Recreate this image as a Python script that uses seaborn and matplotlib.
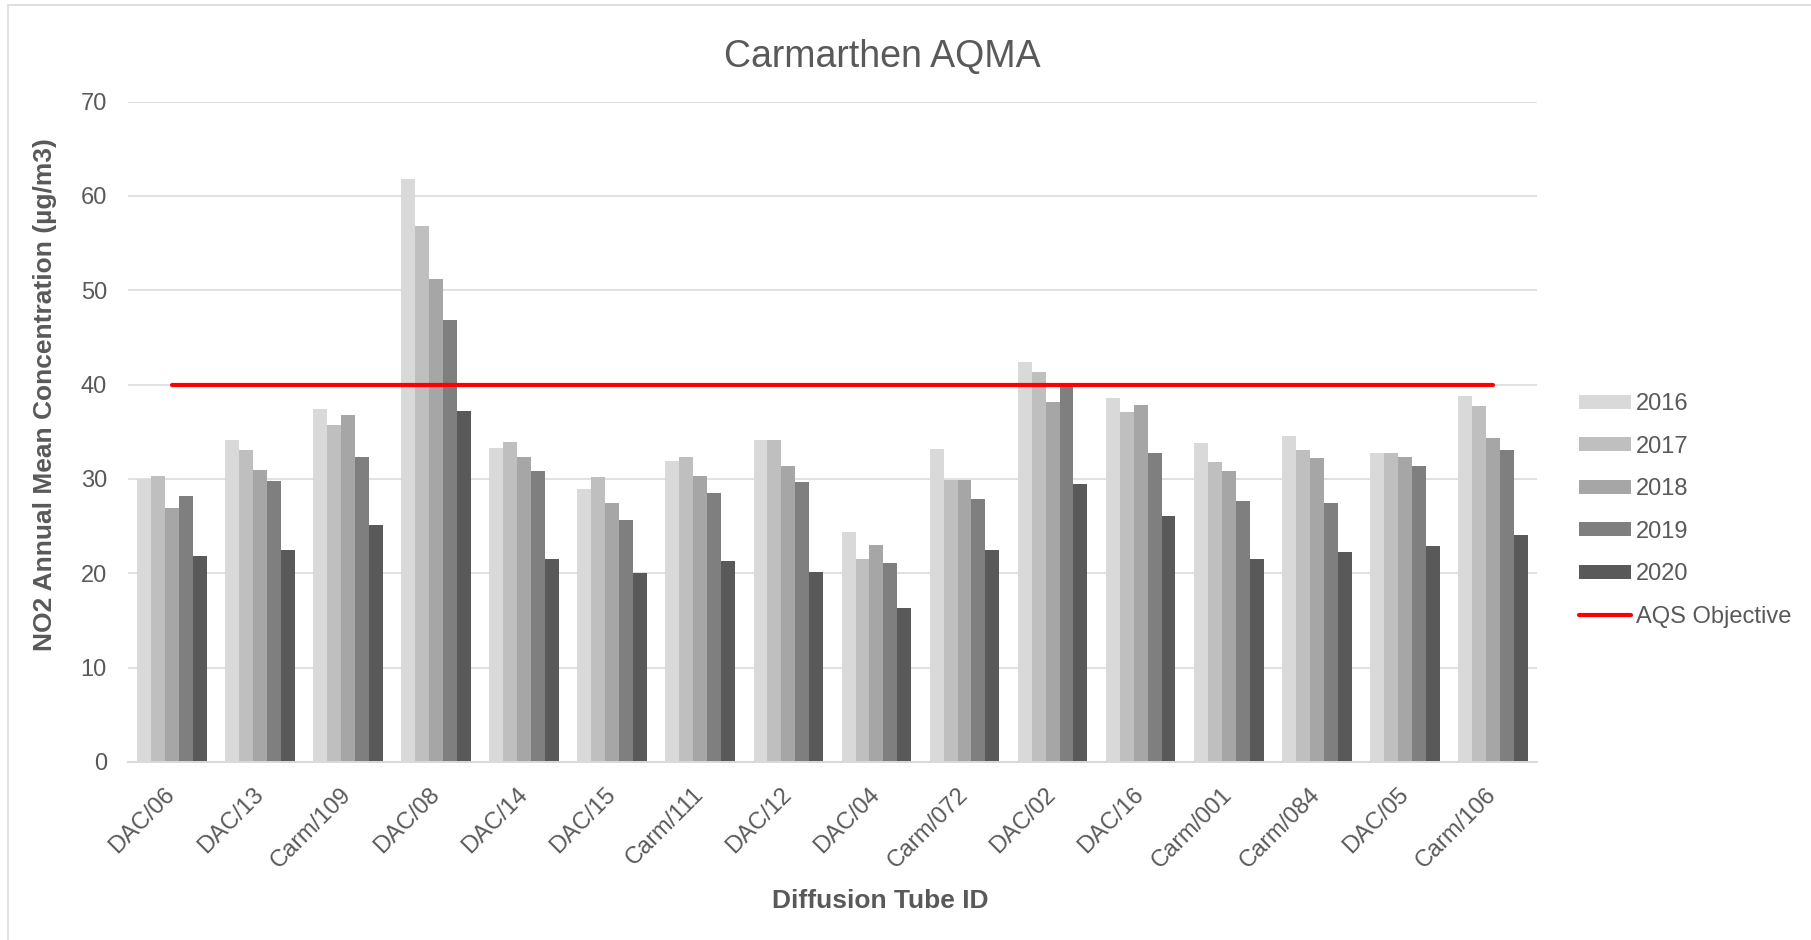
#!/usr/bin/env python3
# -*- coding: utf-8 -*-

import numpy as np
import pandas as pd
import matplotlib
matplotlib.use('Agg')
import matplotlib.pyplot as plt
from matplotlib.lines import Line2D
from matplotlib.patches import Rectangle
import seaborn as sns

# values
tubes = ['DAC/06', 'DAC/13', 'Carm/109', 'DAC/08', 'DAC/14', 'DAC/15',
         'Carm/111', 'DAC/12', 'DAC/04', 'Carm/072', 'DAC/02', 'DAC/16',
         'Carm/001', 'Carm/084', 'DAC/05', 'Carm/106']
years = ['2016', '2017', '2018', '2019', '2020']

no2_2016 = [30.0, 34.1, 37.4, 61.8, 33.3, 28.9, 31.9, 34.1, 24.4, 33.2, 42.4, 38.6, 33.8, 34.6, 32.8, 38.8]
no2_2017 = [30.3, 33.1, 35.7, 56.8, 33.9, 30.2, 32.3, 34.1, 21.5, 29.9, 41.3, 37.1, 31.8, 33.1, 32.8, 37.7]
no2_2018 = [26.9, 31.0, 36.8, 51.2, 32.3, 27.5, 30.3, 31.4, 23.0, 29.9, 38.2, 37.8, 30.8, 32.2, 32.3, 34.3]
no2_2019 = [28.2, 29.8, 32.3, 46.8, 30.8, 25.6, 28.5, 29.7, 21.1, 27.9, 39.8, 32.7, 27.7, 27.5, 31.4, 33.1]
no2_2020 = [21.8, 22.5, 25.1, 37.2, 21.5, 20.0, 21.3, 20.1, 16.3, 22.5, 29.5, 26.1, 21.5, 22.3, 22.9, 24.1]

aqs_objective = 40
y_ticks = [0, 10, 20, 30, 40, 50, 60, 70]

bar_colors = ['#d9d9d9', '#bfbfbf', '#a6a6a6', '#7f7f7f', '#595959']
text_color = '#595959'
grid_color = '#d9d9d9'

W, H = 1811, 940


def longForm():
    series = [no2_2016, no2_2017, no2_2018, no2_2019, no2_2020]
    frames = []
    for year, vals in zip(years, series):
        frames.append(pd.DataFrame({'tube': tubes, 'year': year, 'no2': vals}))
    return pd.concat(frames, ignore_index=True)


def aqmaChart(df):
    sns.set_style('white')
    plt.rcParams['font.family'] = ['Liberation Sans', 'DejaVu Sans']

    fig = plt.figure(figsize=(W / 100, H / 100), dpi=100)
    ax = fig.add_axes([127.7 / W, 1 - 762 / H, (1537 - 127.7) / W, (762 - 101.6) / H])

    sns.barplot(data=df, x='tube', y='no2', hue='year', order=tubes,
                hue_order=years, palette=bar_colors, width=0.79,
                linewidth=0, saturation=1, ax=ax, legend=True)

    # AQS objective line, first to last tube
    xs = np.arange(len(tubes))
    ax.plot(xs, [aqs_objective] * len(tubes), color='#ff0000', lw=3,
            solid_capstyle='round', zorder=5)

    ax.set_ylim(y_ticks[0], y_ticks[-1])
    ax.set_yticks(y_ticks)
    ax.set_xlim(-0.5, len(tubes) - 0.5)
    ax.yaxis.grid(True, color=grid_color, lw=1.1)
    ax.set_axisbelow(True)
    for side in ['top', 'right', 'left']:
        ax.spines[side].set_visible(False)
    ax.spines['bottom'].set_color(grid_color)
    ax.spines['bottom'].set_linewidth(1.4)

    ax.tick_params(axis='y', length=0, pad=15, labelsize=17, labelcolor=text_color)
    ax.tick_params(axis='x', length=0, pad=21, labelsize=17, labelcolor=text_color)
    plt.setp(ax.get_xticklabels(), rotation=45, ha='right', va='center',
             rotation_mode='anchor')

    ax.set_xlabel('Diffusion Tube ID', fontsize=19, fontweight='bold', color=text_color)
    ax.xaxis.set_label_coords((880 - 127.7) / (1537 - 127.7), -(889 - 762) / (762 - 101.6))
    ax.set_ylabel('NO2 Annual Mean Concentration (µg/m3)', fontsize=19,
                  fontweight='bold', color=text_color)
    ax.yaxis.set_label_coords(-(127.7 - 57) / (1537 - 127.7), (762 - 395) / (762 - 101.6))

    fig.text(882 / W, 1 - 57.5 / H, 'Carmarthen AQMA', fontsize=27,
             color=text_color, ha='center', va='center')

    # legend on the right, bars then objective line
    handles, labels = ax.get_legend_handles_labels()
    ax.get_legend().remove()
    handles = handles[:len(years)] + [Line2D([], [], color='#ff0000', lw=3,
                                             solid_capstyle='round')]
    labels = labels[:len(years)] + ['AQS Objective']
    fig.legend(handles, labels, loc='upper left',
               bbox_to_anchor=(1579 / W, 1 - 393 / H), frameon=False,
               fontsize=17, labelcolor=text_color, handlelength=2.2,
               handleheight=0.55, handletextpad=0.2, labelspacing=0.87,
               borderpad=0, borderaxespad=0)

    # light chart-area border (top and left visible in the crop)
    fig.add_artist(Rectangle((8 / W, -0.1), 1.2, 1.1 - 5 / H,
                             transform=fig.transFigure, fill=False,
                             edgecolor=grid_color, lw=1.2))

    fig.savefig('out.png', dpi=100, facecolor='white')


if __name__ == '__main__':
    aqmaChart(longForm())
